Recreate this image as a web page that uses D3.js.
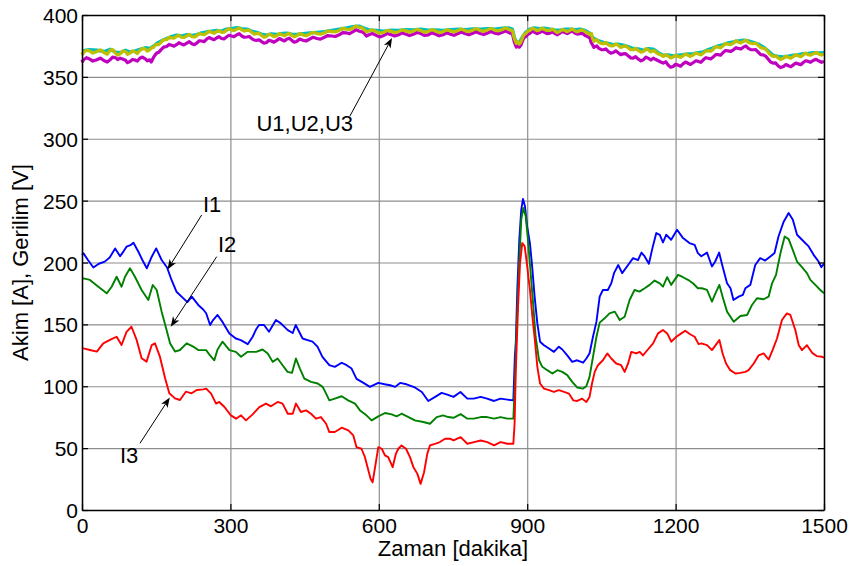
<!DOCTYPE html>
<html>
<head>
<meta charset="utf-8">
<script src="https://cdn.jsdelivr.net/npm/d3@7"></script>
<style>
  html, body { margin: 0; padding: 0; background: #fff; }
  svg { display: block; font-family: "Liberation Sans", Arial, sans-serif; }
</style>
</head>
<body>
<svg id="chart" width="852" height="566"></svg>
<script>
// Phase currents I1..I3 [A] and phase voltages U1..U3 [V] over time [minutes]
const i1 = [[0,206],[3,207.4],[12,202],[23,196],[34,199],[46,200.7],[56,204],[67,211.4],[77,205],[84,209],[90,212.8],[98,214],[104,216],[114,208.7],[122,202],[131,195.3],[141,204.7],[150,211.4],[161,202],[172,196],[181,185.9],[191,176.4],[205,171],[213,168],[222,172.4],[235,165.7],[245,162],[251,159],[259,149.5],[265,153.5],[274,157.6],[284,152],[298,142.7],[311,138.6],[321,137.3],[335,134],[345,140],[352,146],[358,149.5],[368,149.5],[378,144],[392,153.5],[402,150.8],[416,145.4],[426,143],[432,149.5],[446,138.6],[456,137.3],[466,136],[476,132],[486,123.8],[500,117],[511,115.7],[525,119],[535,117],[545,114.3],[555,106],[569,102.7],[582,99.5],[599,102.7],[612,101.6],[623,100.8],[633,99.5],[643,102.7],[656,101.6],[673,99],[687,95.4],[700,88.1],[714,91.4],[727,94.6],[737,93.5],[751,91.4],[765,95.4],[779,90],[792,90],[806,91.4],[819,90],[833,88.1],[846,90],[860,89.2],[872,88.6],[875,123.8],[877,136],[880,178],[884,218.4],[888,242.7],[891.5,251.4],[895.5,245.4],[900,229],[905.5,215.7],[910,196.8],[915,172.4],[920.5,150.8],[926,136],[934,133.2],[944,130.5],[954,127.8],[964,132],[971,129.7],[981,125],[991,119.7],[1001,121],[1013,119],[1019.5,122.4],[1026,126.5],[1033,140],[1040,152.2],[1046.5,172.4],[1053,177.8],[1063,177.8],[1070,183.2],[1075.5,191.4],[1084,198],[1092,191.4],[1104,198],[1114,203.5],[1124,202],[1131,208],[1137.5,204.9],[1146,199],[1154,213],[1161,223.8],[1168,222.4],[1174.5,216.2],[1181,222.4],[1191,218.4],[1203,226.5],[1215,219.7],[1228,215.7],[1238.5,214.3],[1245,207.6],[1252,205],[1263.5,208],[1273.5,196.8],[1280,200.8],[1288,208],[1295,196.8],[1304,183.2],[1311,179.2],[1317,169.7],[1327.5,172.4],[1336,173.8],[1341,179.2],[1351,181.9],[1361,198],[1371,203.5],[1381,201.6],[1391.5,204.9],[1400,207.6],[1408,221],[1418.5,233],[1428.5,240],[1437,234.6],[1445.5,222.4],[1455.5,218.4],[1469,213],[1479,206.2],[1489,200.8],[1494.5,196.2],[1500,199]];

const i2 = [[0,187],[3,187.2],[16,185.9],[33,180.4],[50,175.1],[60,180.4],[70,188.5],[80,180.4],[87,188.5],[97,195.3],[107,188.5],[120.5,177.8],[134,169.7],[143,181.8],[151,177.8],[161,160.3],[171,145.5],[178,134.7],[188,128],[198,129.3],[211.5,134.7],[225,132],[235,129.3],[251,129.2],[258,125.3],[267.5,121],[274,129.7],[284,136],[298,129.2],[311,127.8],[321.5,123.8],[335,127.8],[352,127.8],[365,129.7],[375.5,126.5],[385.5,119.7],[395.5,122.4],[405.5,117],[415.5,111.6],[424.5,110.8],[432.5,122.4],[440.5,114.3],[449.5,106.2],[463,103.5],[476.5,102.2],[486.5,99.5],[493.5,94],[500,88.6],[511,90],[525,91.9],[538,88.6],[552,86],[562,80.5],[575,76.5],[585.5,72.4],[599,75.7],[612.5,78.4],[626,77.3],[636,75.7],[646,77.8],[660,75.1],[673,72.4],[690,71.1],[703.5,69.7],[717,75.1],[730,76.5],[740.5,75.1],[751,74.5],[765.5,77.5],[779,73.8],[792,73.8],[806,75.1],[819,75.1],[833,73.8],[846,75.1],[860,73.8],[872,73.8],[874.5,96.8],[878.5,145.4],[883.5,196.8],[888,234.6],[892,244],[897,237.3],[901.5,218.4],[907,191.4],[912.5,164.3],[917,140],[924,121],[930.5,115.7],[940.5,113],[951,110.3],[961,113],[971,111.6],[981,109],[991,103.5],[1001,99],[1013,98.1],[1019.5,100],[1026,107.6],[1033,123.8],[1040,140],[1046.5,151.4],[1056.5,154.9],[1066.5,158.9],[1077,160.3],[1087,153.5],[1097,156.2],[1107,169.7],[1117,177.8],[1127,176.5],[1137.5,179.2],[1147.5,181.9],[1157.5,185.4],[1168,183.2],[1174.5,180.5],[1183,188.1],[1191,181.9],[1205,190],[1215,188.1],[1225,186],[1235,183.2],[1245,179.2],[1253,179.2],[1263.5,177.8],[1273.5,168.4],[1280.5,175],[1288.5,181.9],[1295,172.4],[1304,160.3],[1317.5,152.2],[1331,156.8],[1344.5,157.6],[1354.5,165.7],[1364.5,171.1],[1378,170.3],[1388,172.4],[1395,183.2],[1403,190],[1412,207.6],[1420.5,221],[1428.5,218.9],[1435.5,211.6],[1445.5,200.8],[1455.5,196.2],[1465.5,191.4],[1472.5,186],[1482.5,181.9],[1492.5,177.8],[1500,175.1]];

const i3 = [[0,131],[3,130.6],[16,129.3],[30,128],[43,134.7],[56.5,137.4],[70,140],[80,133.3],[90,144],[100,148.1],[110.5,137.4],[120.5,122.6],[130.5,119.9],[141,133.3],[147.5,134.7],[157.5,123.9],[168,106.4],[176.5,94.3],[188,90.2],[198,88.9],[210,95.6],[221.5,94.3],[232,97],[245,97.5],[251,98.1],[261,94],[271,86],[277.5,87.3],[288,83.2],[301,76.5],[311.5,73.8],[321.5,76.5],[331.5,72.4],[345,77.3],[358.5,83.2],[372,86],[382,83.8],[395.5,87.3],[405.5,86],[416,77.8],[426,77.8],[432.5,86],[442.5,79.2],[453,80.5],[463,77.8],[473,73.8],[483,75.1],[493.5,69.7],[500,63],[511,63],[525,66.5],[538.5,64.3],[548.5,60.3],[555,50.8],[565,49.5],[572,42.7],[579,31.9],[583.5,25.1],[587.5,22.4],[592.5,34.6],[599,50.8],[606,49.5],[612.5,44.1],[619,42.7],[628,34.6],[634.5,45.4],[639.5,49.5],[646,52.2],[655,49.5],[663,42.7],[670,34.6],[678,29.2],[684.5,21.1],[691.5,30.5],[698,45.4],[703.5,52.2],[713.5,53.5],[723.5,54.9],[734,57.6],[744,57.6],[751,56.2],[765.5,58.9],[779,53.5],[792.5,54.9],[806,56.2],[819.5,54.9],[833,52.2],[846,54.9],[860,53.5],[872,53.5],[874.5,69.7],[877,113],[881.5,164.3],[885.5,199.5],[890,215.7],[895,213],[900,196.8],[905.5,177.8],[910.5,156.2],[915.5,137.3],[920.5,115.7],[926,102.2],[934,98.1],[944,96.8],[954,95.4],[964,96.8],[974.5,95.4],[984.5,94],[993,88.6],[1001,88.1],[1011,90],[1019.5,87.3],[1026,91.4],[1031,102.2],[1036.5,111.6],[1043,117],[1053,121],[1062,126.5],[1070,122.4],[1080,118.4],[1090,117],[1097,111.6],[1104,118.4],[1110.5,127.8],[1120.5,126.5],[1127.5,127.8],[1134,124.9],[1144,129.7],[1154.5,134.6],[1164.5,142.7],[1174.5,145.4],[1183,142.7],[1191.5,136],[1201.5,140],[1211.5,142.7],[1219.5,144.9],[1228.5,142.2],[1238.5,140],[1246.5,134],[1252,134.6],[1263.5,133.2],[1273.5,129.2],[1283.5,134.6],[1288.5,137.3],[1295,126.5],[1302,118.4],[1310.5,113],[1321,110.3],[1331,110.8],[1341,111.6],[1347.5,113],[1358,118.4],[1368,125],[1378,126.5],[1388,121.6],[1396,129.2],[1405,138.6],[1415,153.5],[1425,158.9],[1432,157.6],[1442,145.4],[1449,133.2],[1455.5,129.2],[1465.5,133.2],[1476,127],[1486,124.3],[1496,123.8],[1500,123.2]];

const u1 = [[0,371],[15,372],[30,371.5],[45,370.5],[57,372.3],[68,370],[77,369.5],[88,371.5],[97,370],[108,371],[117,372.3],[128,373.5],[137,373],[145,375],[151,377],[160,379],[171,381],[181,382.5],[191,383.7],[201,383],[212,384.2],[222,383.5],[232,384.2],[242,385.5],[252,386.4],[262,387],[272,387.5],[282,387],[292,388.6],[302,389],[313,389.7],[323,389],[333,388.6],[343,387],[353,385.9],[363,384.5],[373,383.7],[383,384.8],[394,384.2],[404,385],[414,385.3],[424,384.5],[434,384.2],[447,384.8],[460,385.5],[475,386],[490,386.5],[505,387.5],[520,388.5],[535,389.5],[548,390.5],[560,391],[570,389.5],[580,388],[595,387.5],[610,387],[625,387.8],[640,387.5],[655,388.2],[670,388],[685,388.5],[700,387.8],[715,388],[730,387.5],[745,388.2],[760,388.5],[775,388.2],[790,388.8],[805,388.5],[820,389],[835,388.6],[850,389.3],[862,389.5],[870,388.5],[874,382],[878,378],[884,377.5],[890,382],[897,386],[905,388.5],[915,389.5],[925,389],[935,389.3],[946,388.6],[956,388],[966,387.8],[976,388.5],[986,388.6],[996,388.2],[1007,388.6],[1017,387.5],[1027,385],[1032,382],[1037,380.5],[1045,379],[1054,377.8],[1064,377],[1074,376.1],[1084,376.5],[1094,375.6],[1104,374.5],[1114,372.9],[1124,372.5],[1135,371.5],[1145,372.8],[1155,372.4],[1165,369.5],[1175,367.5],[1185,367.8],[1195,367],[1205,367.5],[1215,368],[1225,368.5],[1236,368.8],[1246,369.5],[1256,370.2],[1266,372],[1276,373.4],[1286,375],[1296,376.1],[1306,377.5],[1317,378.3],[1327,379],[1337,379.6],[1347,379],[1357,377.8],[1367,376.5],[1377,374.2],[1387,371],[1397,367.5],[1407,366.5],[1418,366.1],[1428,366.8],[1438,367.5],[1448,368],[1458,368.8],[1468,369],[1478,369.6],[1490,369.3],[1500,369.6]];

const u2 = [[0,364],[1.5,362.5],[3,363.8],[9,365.5],[15,364.5],[22,362.8],[30,363.8],[37,365.2],[45,363],[51,362],[57,363.8],[62,366],[68,365.5],[72,364],[77,365.1],[82,364.5],[88,363.5],[92,361.5],[97,362.4],[102,364],[108,363.5],[112,362.8],[117,365.1],[122,366],[128,364.5],[132,363],[137,363.8],[140,362],[145,366],[148,367.8],[151,369.2],[155,369.8],[160,372],[165,374],[171,374.6],[176,376.2],[181,375.5],[186,374.8],[191,376],[196,377.6],[201,376.5],[206,375.8],[212,377.3],[217,378.5],[222,376.8],[227,376],[232,377.3],[237,379.2],[242,379],[247,378.5],[252,380.5],[257,381.8],[262,380.8],[267,380],[272,381.4],[277,382.5],[282,381],[287,380.6],[292,382.2],[297,383.6],[302,383],[307,382.5],[313,384],[318,385],[323,383],[328,382],[333,382.2],[338,382.6],[343,381],[348,379.8],[353,379.5],[358,380],[363,378.5],[368,377.2],[373,377.8],[378,379.6],[383,379],[388,378],[394,379.5],[399,381],[404,380],[409,379],[414,380.5],[419,381.3],[424,379.5],[429,378],[434,378.6],[440,380.6],[447,379.5],[453,379],[460,380.5],[467,382],[475,381],[482,380.5],[490,382],[497,383.4],[505,383],[512,382.6],[520,384],[527,385.8],[535,385.5],[541,385],[548,386.5],[554,388],[560,387],[565,386.6],[570,385.5],[575,383],[580,384],[587,385],[595,383.5],[602,382.3],[610,383.5],[617,385],[625,384],[632,383],[640,384],[647,385.5],[655,384.5],[662,383.4],[670,384.5],[677,385.8],[685,385],[692,383.5],[700,384],[707,385.6],[715,384.5],[722,383.2],[730,384],[737,385.6],[745,384.5],[752,383.6],[760,385],[767,386.2],[775,384.8],[782,384],[790,385.3],[797,386.5],[805,385],[812,384.2],[820,385.5],[827,386.7],[835,385.3],[842,384.8],[850,386],[856,387.2],[862,386],[866,385.3],[870,385],[874,378],[878,374],[881,375.5],[884,374],[887,375.5],[890,378.5],[893,381.5],[897,382.5],[901,384.3],[905,385],[910,386.8],[915,386],[920,385],[925,385.8],[930,387],[935,386],[940,385],[946,385.4],[951,386.4],[956,385],[961,384],[966,385.4],[971,386.8],[976,385.8],[981,385],[986,386.2],[991,387.2],[996,385.5],[1001,384.6],[1007,384.9],[1012,385.2],[1017,383.5],[1022,382.6],[1027,381.4],[1029,378],[1032,376],[1035,373.8],[1037,374.6],[1041,375],[1045,373],[1050,372],[1054,371.9],[1059,372.6],[1064,370.5],[1069,369.2],[1074,369.7],[1079,371],[1084,369.5],[1089,368],[1094,368.6],[1099,368.8],[1104,367],[1109,365.4],[1114,365.1],[1119,366.3],[1124,364.5],[1130,363],[1135,363.8],[1140,366],[1145,365],[1150,363.6],[1155,365.1],[1160,364],[1165,363],[1170,362],[1175,361.1],[1180,362.2],[1185,359.5],[1190,357.8],[1195,358.4],[1200,360.2],[1205,359.5],[1210,358.6],[1215,360.5],[1220,362],[1225,361],[1230,360],[1236,361.6],[1241,363],[1246,362.5],[1251,361.8],[1256,363.8],[1261,365.5],[1266,365],[1271,364.5],[1276,366],[1281,368],[1286,368],[1291,367.5],[1296,369.7],[1301,371.3],[1306,371],[1311,370.5],[1317,371.9],[1322,373.6],[1327,373],[1332,372.5],[1337,374],[1342,375],[1347,373],[1352,372],[1357,371.9],[1362,372],[1367,370],[1372,368],[1377,367.8],[1382,366.8],[1387,364.5],[1392,362],[1397,361.1],[1402,361.3],[1407,359],[1412,357.5],[1418,358.4],[1423,360],[1428,359],[1433,358.2],[1438,359.7],[1443,361.2],[1448,360.5],[1453,359.8],[1458,361.6],[1463,363],[1468,362.5],[1473,361.8],[1478,363.2],[1484,364.2],[1490,362.8],[1495,361.8],[1500,362.4]];

const u3 = [[0,370],[1.5,368.5],[3,369.7],[9,371.5],[15,371],[22,369.2],[30,370.5],[37,371.8],[45,369.5],[51,368.3],[57,371.4],[62,372],[68,369],[72,367.6],[77,368.6],[82,370.8],[88,370.5],[92,368.2],[97,369.2],[102,371],[108,370],[112,368.8],[117,371.4],[122,373],[128,372.5],[132,370.8],[137,371.9],[141,373.6],[145,374],[148,375.8],[151,376],[155,376],[160,378],[165,380],[171,380],[176,382],[181,381.5],[186,381.3],[191,382.7],[196,383.6],[201,382],[206,381.8],[212,383.2],[217,384.3],[222,382.5],[227,382.2],[232,383.2],[237,385],[242,384.5],[247,384],[252,385.4],[257,386.8],[262,386],[267,385.2],[272,386.5],[277,387.5],[282,386],[287,386.2],[292,387.6],[297,389],[302,388],[307,387.3],[313,388.6],[318,389.5],[323,388],[328,387],[333,387.6],[338,387.8],[343,386],[348,384.5],[353,384.9],[358,385.2],[363,383.5],[368,382],[373,382.7],[378,384.5],[383,383.8],[388,382.5],[394,383.2],[399,385],[404,384],[409,383.2],[414,384.3],[419,385.2],[424,383.5],[429,382.4],[434,383.2],[440,385],[447,383.8],[453,383.2],[460,384.5],[467,386],[475,385],[482,384.5],[490,385.5],[497,387.2],[505,386.5],[512,386.3],[520,387.5],[527,389.2],[535,388.5],[541,388.3],[548,389.5],[554,391.2],[560,390],[565,389.8],[570,388.5],[575,386.4],[580,387],[587,388],[595,386.5],[602,385.3],[610,386],[617,387.6],[625,386.8],[632,385.8],[640,386.5],[647,388],[655,387.2],[662,386],[670,387],[677,388.4],[685,387.5],[692,386],[700,386.8],[707,388.2],[715,387],[722,385.8],[730,386.5],[737,388],[745,387.2],[752,386.3],[760,387.5],[767,388.6],[775,387.2],[782,386.6],[790,387.8],[797,389],[805,387.5],[812,386.8],[820,388],[827,389.2],[835,387.6],[842,387.2],[850,388.3],[856,389.6],[862,388.5],[866,387.8],[870,387.5],[874,381],[878,377],[881,378.5],[884,376.5],[887,378],[890,381],[893,384],[897,385],[901,386.8],[905,387.5],[910,389.3],[915,388.5],[920,387.4],[925,388],[930,389.4],[935,388.3],[940,387.5],[946,387.6],[951,388.6],[956,387],[961,385.8],[966,386.8],[971,388.3],[976,387.5],[981,386.5],[986,387.6],[991,388.8],[996,387.2],[1001,386.4],[1007,387.6],[1012,388],[1017,386.5],[1022,385.5],[1027,384],[1030,385],[1032,381],[1035,378.8],[1037,379.5],[1041,380],[1045,378],[1050,377],[1054,376.8],[1059,377.8],[1064,376],[1069,375],[1074,375.1],[1079,376.6],[1084,375.5],[1089,373.8],[1094,374.6],[1099,375],[1104,373.5],[1109,372],[1114,371.9],[1119,373],[1124,371.5],[1130,370],[1135,370.5],[1140,372.8],[1145,371.8],[1150,370.2],[1155,371.4],[1160,370],[1165,368.5],[1170,367.8],[1175,366.5],[1180,368],[1185,366.8],[1190,365.3],[1195,366],[1200,367.5],[1205,366.5],[1210,365.8],[1215,367],[1220,368.5],[1225,367.5],[1230,366.5],[1236,367.8],[1241,369.3],[1246,368.5],[1251,367.8],[1256,369.2],[1261,371],[1266,371],[1271,370.8],[1276,372.4],[1281,374.5],[1286,374],[1291,373.5],[1296,375.1],[1301,377],[1306,376.5],[1311,376],[1317,377.3],[1322,379.3],[1327,378],[1332,377.5],[1337,378.6],[1342,379.8],[1347,378],[1352,377.2],[1357,376.8],[1362,377.3],[1367,375.5],[1372,373.6],[1377,373.2],[1382,372.5],[1387,370],[1392,367.8],[1397,366.5],[1402,367],[1407,365.5],[1412,364],[1418,365.1],[1423,366.8],[1428,365.8],[1433,365],[1438,366.5],[1443,368],[1448,367],[1453,366.3],[1458,367.8],[1463,369.3],[1468,368],[1473,367.5],[1478,368.6],[1484,369.8],[1490,368.3],[1495,367.6],[1500,368.6]];

const xTicks = [0, 300, 600, 900, 1200, 1500];
const yTicks = [0, 50, 100, 150, 200, 250, 300, 350, 400];

// MATLAB default line colour order
const series = [
  { name: "I1", data: i1, color: "#0000ff", width: 1.9 },
  { name: "I2", data: i2, color: "#008000", width: 1.9 },
  { name: "I3", data: i3, color: "#ff0000", width: 1.9 },
  { name: "U1", data: u1, color: "#00bfbf", width: 3.4 },
  { name: "U2", data: u2, color: "#bf00bf", width: 3.2 },
  { name: "U3", data: u3, color: "#bfbf00", width: 3.2 }
];

// Text callouts: label anchor and arrow (tail -> head), in data units
const callouts = [
  { text: "U1,U2,U3", at: [352.7, 306.3], from: [541.7, 318.4], to: [626.7, 381.4] },
  { text: "I1", at: [244.6, 240.8], from: [242, 238.4], to: [172.8, 194.3] },
  { text: "I2", at: [274.9, 208.5], from: [272.3, 204.7], to: [179.3, 148.1] },
  { text: "I3", at: [76.8, 38], from: [117.2, 53.9], to: [177.5, 90.9] }
];

const W = 852, H = 566;
const margin = { left: 82, right: 28, top: 15, bottom: 56 };
const iw = W - margin.left - margin.right;
const ih = H - margin.top - margin.bottom;

const svg = d3.select("#chart");
const g = svg.append("g").attr("transform", `translate(${margin.left},${margin.top})`);

const x = d3.scaleLinear().domain([0, 1500]).range([0, iw]);
const y = d3.scaleLinear().domain([0, 400]).range([ih, 0]);

// grid
const gridColor = "#8e8e8e";
g.append("g").attr("class", "grid-x")
  .attr("transform", `translate(0,${ih})`)
  .call(d3.axisBottom(x).tickValues(xTicks).tickSize(-ih).tickFormat(""))
  .call(s => s.select(".domain").remove())
  .call(s => s.selectAll("line").attr("stroke", gridColor).attr("stroke-width", 1.2));
g.append("g").attr("class", "grid-y")
  .call(d3.axisLeft(y).tickValues(yTicks).tickSize(-iw).tickFormat(""))
  .call(s => s.select(".domain").remove())
  .call(s => s.selectAll("line").attr("stroke", gridColor).attr("stroke-width", 1.2));

// data lines
const line = d3.line().x(d => x(d[0])).y(d => y(d[1]));
g.append("g").selectAll("path").data(series).join("path")
  .attr("fill", "none")
  .attr("stroke", d => d.color)
  .attr("stroke-width", d => d.width)
  .attr("stroke-linejoin", "round")
  .attr("d", d => line(d.data));

// axes: inward ticks on all four sides
const fontSize = 21;
const styleAxis = s => {
  s.select(".domain").attr("stroke", "#000").attr("stroke-width", 1.5);
  s.selectAll(".tick line").attr("stroke", "#000").attr("stroke-width", 1.2);
  s.selectAll("text").attr("fill", "#000").attr("font-size", fontSize)
    .attr("font-family", "Liberation Sans, Arial, sans-serif");
};
g.append("g").attr("transform", `translate(0,${ih})`)
  .call(d3.axisBottom(x).tickValues(xTicks).tickSizeInner(-6).tickSizeOuter(0).tickPadding(8)
    .tickFormat(d3.format("d")))
  .call(styleAxis)
  .call(s => s.selectAll("text").attr("dy", "0.71em"));
g.append("g")
  .call(d3.axisTop(x).tickValues(xTicks).tickSizeInner(-6).tickSizeOuter(0).tickFormat(""))
  .call(styleAxis);
g.append("g")
  .call(d3.axisLeft(y).tickValues(yTicks).tickSizeInner(-6).tickSizeOuter(0).tickPadding(4))
  .call(styleAxis)
  .call(s => s.selectAll("text").attr("dy", "0.36em"));
g.append("g").attr("transform", `translate(${iw},0)`)
  .call(d3.axisRight(y).tickValues(yTicks).tickSizeInner(-6).tickSizeOuter(0).tickFormat(""))
  .call(styleAxis);

// axis titles
svg.append("text")
  .attr("x", margin.left + iw / 2).attr("y", 556)
  .attr("text-anchor", "middle").attr("font-size", 22)
  .text("Zaman [dakika]");
svg.append("text")
  .attr("transform", `translate(28,${margin.top + ih / 2}) rotate(-90)`)
  .attr("text-anchor", "middle").attr("font-size", 22)
  .text("Akim [A], Gerilim [V]");

// callouts with arrows
const ann = g.append("g");
callouts.forEach(c => {
  ann.append("text")
    .attr("x", x(c.at[0])).attr("y", y(c.at[1]))
    .attr("font-size", 22).attr("fill", "#000")
    .text(c.text);
  const x1 = x(c.from[0]), y1 = y(c.from[1]);
  const x2 = x(c.to[0]), y2 = y(c.to[1]);
  const ang = Math.atan2(y2 - y1, x2 - x1);
  const len = 10, half = 3.8, back = 7.5;
  ann.append("line")
    .attr("x1", x1).attr("y1", y1)
    .attr("x2", x2 - Math.cos(ang) * back).attr("y2", y2 - Math.sin(ang) * back)
    .attr("stroke", "#000").attr("stroke-width", 1);
  const bx = x2 - Math.cos(ang) * len, by = y2 - Math.sin(ang) * len;
  const nx = -Math.sin(ang), ny = Math.cos(ang);
  const mx = x2 - Math.cos(ang) * back, my = y2 - Math.sin(ang) * back;
  ann.append("path")
    .attr("d", `M${x2},${y2}L${bx + nx * half},${by + ny * half}L${mx},${my}L${bx - nx * half},${by - ny * half}Z`)
    .attr("fill", "#000");
});
</script>
</body>
</html>
